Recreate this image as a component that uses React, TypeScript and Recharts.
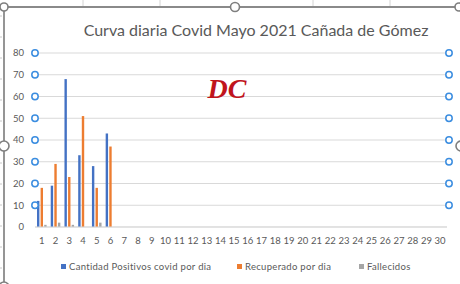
import { BarChart, Bar, XAxis, YAxis, CartesianGrid, Legend } from 'recharts';

// days of May
const days = [
  '1', '2', '3', '4', '5', '6', '7', '8', '9', '10',
  '11', '12', '13', '14', '15', '16', '17', '18', '19', '20',
  '21', '22', '23', '24', '25', '26', '27', '28', '29', '30',
];
const positivos = [12, 19, 68, 33, 28, 43];
const recuperados = [18, 29, 23, 51, 18, 37];
const fallecidos = [1, 2, 1, 0, 2, 0];
const yTicks = [0, 10, 20, 30, 40, 50, 60, 70, 80];

const series = [
  { key: 'positivos', label: 'Cantidad Positivos covid por dia', color: '#4472c4' },
  { key: 'recuperados', label: 'Recuperado por dia', color: '#ed7d31' },
  { key: 'fallecidos', label: 'Fallecidos', color: '#a5a5a5' },
];

const data = days.map((day, i) => ({
  day,
  positivos: positivos[i] ?? null,
  recuperados: recuperados[i] ?? null,
  fallecidos: fallecidos[i] ?? null,
}));

const FONT = 'Lato, "Open Sans", sans-serif';
const TEXT = '#595959';
const HANDLE = '#3b8de0';
const PLOT_BOTTOM = 227;

const LeftTick = (props: any) => {
  const { x, y, payload } = props;
  return (
    <g>
      <text x={x - 11} y={y} dy={3.3} textAnchor="end" fontSize={9.5} fill={TEXT} fontFamily={FONT}>
        {payload.value}
      </text>
      {payload.value !== 0 && (
        <circle cx={x} cy={y} r={3.2} fill="#fff" stroke={HANDLE} strokeWidth={1.5} />
      )}
    </g>
  );
};

// gridline plus the selection handle at its right end
const GridLine = (props: any) => {
  const { x1, y1, x2, y2 } = props;
  return (
    <g>
      <line x1={x1} y1={y1} x2={x2} y2={y2} stroke="#d9d9d9" strokeWidth={1} />
      {y1 < PLOT_BOTTOM - 1 && (
        <circle cx={x2 + 2} cy={y1} r={3.2} fill="#fff" stroke={HANDLE} strokeWidth={1.5} />
      )}
    </g>
  );
};

const legendX = [61, 237, 359];

const LegendContent = () => (
  <div style={{ position: 'relative', width: 460, height: 14 }}>
    {series.map((s, i) => (
      <div
        key={s.key}
        style={{
          position: 'absolute',
          left: legendX[i],
          top: 0,
          display: 'flex',
          alignItems: 'center',
          fontSize: 9.5,
          color: TEXT,
          fontFamily: FONT,
          whiteSpace: 'nowrap',
          letterSpacing: 0.3,
        }}
      >
        <span style={{ width: 5, height: 5, background: s.color, marginRight: 3, display: 'inline-block' }} />
        {s.label}
      </div>
    ))}
  </div>
);

export default function App() {
  return (
    <div
      style={{
        position: 'absolute',
        left: 0,
        top: 0,
        width: 460,
        height: 284,
        background: '#fff',
        overflow: 'hidden',
        fontFamily: FONT,
      }}
    >
      <BarChart
        width={460}
        height={284}
        data={data}
        margin={{ top: 53, right: 13, left: 0, bottom: 37 }}
        barSize={2.4}
        barGap={1.2}
      >
        <CartesianGrid vertical={false} horizontal={(p: any) => <GridLine {...p} />} />
        <XAxis
          dataKey="day"
          interval={0}
          tickLine={false}
          tickSize={0}
          tickMargin={10}
          height={20}
          axisLine={{ stroke: '#d9d9d9' }}
          tick={{ fontSize: 9.5, fill: TEXT, fontFamily: FONT }}
        />
        <YAxis
          domain={[0, 80]}
          ticks={yTicks}
          interval={0}
          width={35}
          axisLine={false}
          tickLine={false}
          tickSize={0}
          tickMargin={0}
          tick={<LeftTick />}
        />
        <Legend
          verticalAlign="middle"
          content={<LegendContent />}
          wrapperStyle={{ top: 261, left: 0, width: 460 }}
        />
        {series.map((s) => (
          <Bar key={s.key} dataKey={s.key} fill={s.color} isAnimationActive={false} />
        ))}
      </BarChart>

      <svg
        width={460}
        height={284}
        style={{ position: 'absolute', left: 0, top: 0, pointerEvents: 'none' }}
      >
        {/* spreadsheet behind the chart */}
        {[83, 160, 313, 390].map((x) => (
          <line key={x} x1={x} y1={0} x2={x} y2={6} stroke="#d4d4d4" />
        ))}
        {[16, 37, 58, 79, 100, 121, 163, 184, 205, 226, 247, 268].map((y) => (
          <line key={y} x1={0} y1={y} x2={2} y2={y} stroke="#c8c8c8" />
        ))}
        <text x={256} y={36} textAnchor="middle" fontSize={16} fill={TEXT} fontFamily={FONT}>
          Curva diaria Covid Mayo 2021 Cañada de Gómez
        </text>
        <text
          x={227}
          y={98}
          textAnchor="middle"
          fontSize={28}
          fontWeight="bold"
          fontStyle="italic"
          fill="#c0141c"
          fontFamily='"Liberation Serif", "DejaVu Serif", serif'
        >
          DC
        </text>
        {/* selection frame */}
        <line x1={4} y1={7} x2={460} y2={7} stroke="#8a8a8a" strokeWidth={1.8} />
        <line x1={4} y1={7} x2={4} y2={284} stroke="#8a8a8a" strokeWidth={1.8} />
        {[
          [4, 7, 4],
          [235, 7, 4.5],
          [459, 7, 4],
          [4, 146, 5],
          [461, 146, 5],
          [4, 287, 5],
        ].map(([cx, cy, r]) => (
          <circle key={`${cx}-${cy}`} cx={cx} cy={cy} r={r} fill="#fff" stroke="#7f7f7f" strokeWidth={1.6} />
        ))}
      </svg>
    </div>
  );
}
